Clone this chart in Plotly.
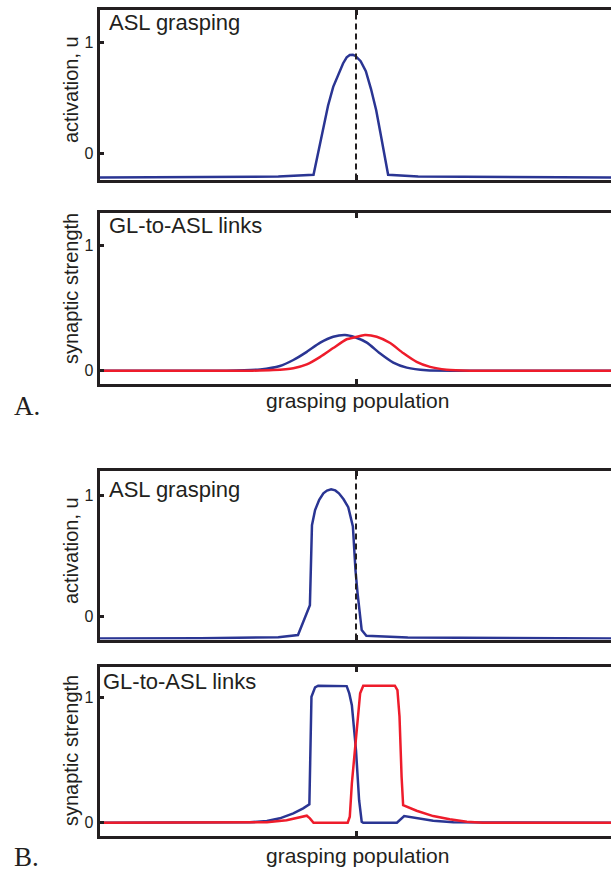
import plotly.graph_objects as go

# ---- data: grasping population (neuron index 0..100, centre at 50) ----
# A. activation of the ASL grasping field
act_a_x = [0, 20, 35, 41.8, 42.7, 43.7, 44.6, 45.6, 46.6, 47.5, 48.2, 48.8, 49.4, 49.9, 50.9, 51.9, 52.9, 53.9, 54.7,
           55.4, 56.2, 62, 80, 100]
act_a_y = [-0.215, -0.213, -0.205, -0.19, 0.02, 0.24, 0.43, 0.60, 0.72, 0.81, 0.865, 0.886, 0.888, 0.877, 0.83, 0.74,
           0.58, 0.39, 0.19, 0.0, -0.19, -0.205, -0.213, -0.215]

# A. GL-to-ASL synaptic links
link_a_blue_x = [0, 25, 31.5, 35.3, 37.9, 40.5, 43.1, 45.6, 47.9, 49.8, 52.1, 54.6, 57.2, 59.8, 63.6, 70, 100]
link_a_blue_y = [0, 0, 0.01, 0.037, 0.085, 0.15, 0.223, 0.27, 0.284, 0.266, 0.223, 0.138, 0.064, 0.024, 0.003, 0, 0]
link_a_red_x = [0, 30, 34.0, 37.9, 40.5, 43.1, 45.6, 48.2, 49.8, 51.7, 54.0, 56.6, 59.1, 61.7, 64.3, 67.5, 72, 100]
link_a_red_y = [0, 0, 0.005, 0.02, 0.05, 0.11, 0.18, 0.25, 0.266, 0.284, 0.27, 0.22, 0.14, 0.07, 0.03, 0.008, 0, 0]

# B. activation of the ASL grasping field
act_b_x = [0, 20, 35, 38.8, 41.1, 41.5, 42.1, 42.9, 43.7, 44.4, 45.2, 46.0, 46.7, 47.6, 48.5, 49.4, 49.9, 50.3, 51.1,
           52.0, 60, 100]
act_b_y = [-0.185, -0.183, -0.175, -0.157, 0.09, 0.75, 0.876, 0.96, 1.014, 1.037, 1.047, 1.038, 1.014, 0.965, 0.90,
           0.74, 0.38, 0.19, -0.116, -0.163, -0.178, -0.185]

# B. GL-to-ASL synaptic links
link_b_blue_x = [0, 29.5, 32.8, 35.3, 37.9, 39.8, 41.0, 41.4, 42.1, 42.7, 48.2, 48.7, 49.2, 50.0, 50.6, 51.1, 51.4,
                 57.9, 59.3, 61.7, 64.9, 68.8, 100]
link_b_blue_y = [0, 0.003, 0.013, 0.035, 0.075, 0.115, 0.147, 1.008, 1.083, 1.096, 1.093, 1.035, 0.94, 0.58, 0.18, 0.008, 0.0,
                 0.0, 0.053, 0.035, 0.016, 0.003, 0]
link_b_red_x = [0, 32.8, 36.6, 39.2, 40.5, 41.1, 41.8, 48.4, 48.8, 49.2, 49.8, 50.3, 50.8, 51.4, 57.5, 58.0, 58.4,
                58.8, 59.1, 61.7, 64.9, 68.1, 71.4, 74.5, 100]
link_b_red_y = [0, 0.003, 0.02, 0.043, 0.056, 0.035, 0.0, 0.0, 0.048, 0.315, 0.58, 0.77, 1.035, 1.096, 1.096, 1.06, 0.85,
                0.37, 0.14, 0.096, 0.053, 0.027, 0.008, 0.0, 0]

y_ticks = [0, 1]
centre_tick = [50]

# ---- styling ----
W, H = 611, 872
BLUE = "#2a3593"
RED = "#ee1c2b"
INK = "#231f20"
SANS = "Liberation Sans, Arial, sans-serif"
SERIF = "Liberation Serif, Times New Roman, serif"


def py(p):
    """pixel row -> paper y"""
    return 1 - p / H


def px(p):
    return p / W


# plot-area rows (top, bottom) of the four panels
panels = [(10, 179.5), (213.2, 383.5), (470.8, 639.5), (666.5, 836.2)]
y_ranges = [[-0.232, 1.290], [-0.102, 1.253], [-0.194, 1.200], [-0.108, 1.250]]
x_range = [0.48, 99.23]
x_dom = [px(99.5), 1.0]

fig = go.Figure()

series = [
    (1, act_a_x, act_a_y, BLUE, "linear"),
    (2, link_a_blue_x, link_a_blue_y, BLUE, "spline"),
    (2, link_a_red_x, link_a_red_y, RED, "spline"),
    (3, act_b_x, act_b_y, BLUE, "linear"),
    (4, link_b_blue_x, link_b_blue_y, BLUE, "linear"),
    (4, link_b_red_x, link_b_red_y, RED, "linear"),
]
for k, xs, ys, col, shape in series:
    sfx = "" if k == 1 else str(k)
    fig.add_trace(go.Scatter(
        x=xs, y=ys, mode="lines", xaxis="x" + sfx, yaxis="y" + sfx,
        line=dict(color=col, width=2.5, shape=shape, smoothing=0.6),
        hoverinfo="skip", showlegend=False,
    ))

layout = dict(
    width=W, height=H, margin=dict(l=0, r=0, t=0, b=0),
    paper_bgcolor="white", plot_bgcolor="white", showlegend=False,
    font=dict(family=SANS, color=INK),
)

for i, ((top, bot), yr) in enumerate(zip(panels, y_ranges)):
    k = i + 1
    sfx = "" if k == 1 else str(k)
    layout["xaxis" + sfx] = dict(
        domain=x_dom, range=x_range, anchor="y" + sfx,
        showline=True, linecolor=INK, linewidth=3, mirror="ticks",
        ticks="inside", tickvals=centre_tick, ticklen=5, tickwidth=3, tickcolor=INK,
        showticklabels=False, showgrid=False, zeroline=False, fixedrange=True,
    )
    layout["yaxis" + sfx] = dict(
        domain=[py(bot), py(top)], range=yr, anchor="x" + sfx,
        showline=True, linecolor=INK, linewidth=3,
        ticks="inside", tickvals=y_ticks, ticktext=[str(v) for v in y_ticks],
        ticklen=4, tickwidth=3, tickcolor=INK,
        tickfont=dict(size=16, family=SANS, color=INK),
        showgrid=False, zeroline=False, fixedrange=True,
    )

fig.update_layout(**layout)

# dashed reference line through the centre of the activation panels
for sfx in ["", "3"]:
    fig.add_shape(type="line", xref="x" + sfx, yref="y" + sfx + " domain",
                  x0=50, x1=50, y0=0, y1=1,
                  line=dict(color=INK, width=2, dash="6px,4px"))

annotations = []
# panel titles
for text, x, y in [("ASL grasping", 107, 23), ("GL-to-ASL links", 107, 226),
                   ("ASL grasping", 107, 489), ("GL-to-ASL links", 101, 681)]:
    annotations.append(dict(text=text, x=px(x), y=py(y), xref="paper", yref="paper",
                            xanchor="left", yanchor="middle", showarrow=False,
                            font=dict(size=22, family=SANS, color=INK)))
# y-axis titles
for text, y in [("activation, u", 90), ("synaptic strength", 289),
                ("activation, u", 551), ("synaptic strength", 751)]:
    annotations.append(dict(text=text, x=px(71), y=py(y), xref="paper", yref="paper",
                            xanchor="center", yanchor="middle", textangle=-90, showarrow=False,
                            font=dict(size=20, family=SANS, color=INK)))
# x-axis titles
for y in [400, 855]:
    annotations.append(dict(text="grasping population", x=px(357), y=py(y), xref="paper", yref="paper",
                            xanchor="center", yanchor="middle", showarrow=False,
                            font=dict(size=21, family=SANS, color=INK)))
# panel letters
for text, y in [("A.", 406), ("B.", 857)]:
    annotations.append(dict(text=text, x=px(12), y=py(y), xref="paper", yref="paper",
                            xanchor="left", yanchor="middle", showarrow=False,
                            font=dict(size=27, family=SERIF, color=INK)))

fig.update_layout(annotations=annotations)

fig.write_html("out.html")
